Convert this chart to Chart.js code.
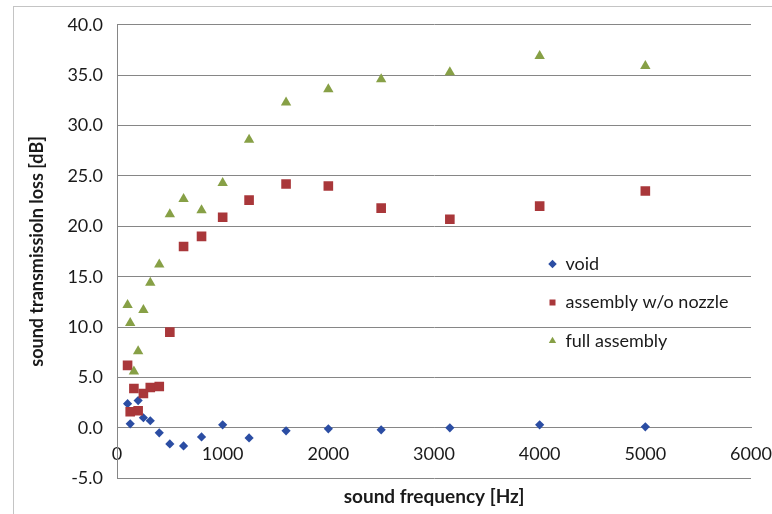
<!DOCTYPE html>
<html>
<head>
<meta charset="utf-8">
<script src="https://cdn.jsdelivr.net/npm/chart.js@4.4.0/dist/chart.umd.min.js"></script>
<style>
    html, body { margin: 0; padding: 0; background: #ffffff; }
    #wrap { width: 772px; height: 514px; }
</style>
</head>
<body>
<div id="wrap"><canvas id="stlChart" width="772" height="514"></canvas></div>
<script>
// --- Chart data ---
const frequencies = [100, 125, 160, 200, 250, 315, 400, 500, 630, 800, 1000, 1250, 1600, 2000, 2500, 3150, 4000, 5000];
const voidLoss = [2.4, 0.4, 1.6, 2.7, 1.0, 0.7, -0.5, -1.6, -1.8, -0.9, 0.3, -1.0, -0.3, -0.1, -0.2, 0.0, 0.3, 0.1];
const noNozzleLoss = [6.2, 1.6, 3.9, 1.7, 3.4, 4.0, 4.1, 9.5, 18.0, 19.0, 20.9, 22.6, 24.2, 24.0, 21.8, 20.7, 22.0, 23.5];
const fullAssemblyLoss = [12.2, 10.4, 5.6, 7.6, 11.7, 14.4, 16.2, 21.2, 22.7, 21.6, 24.3, 28.6, 32.3, 33.6, 34.6, 35.3, 36.9, 35.9];

const seriesNames = ["void", "assembly w/o nozzle", "full assembly"];
const yTickLabels = ["-5.0", "0.0", "5.0", "10.0", "15.0", "20.0", "25.0", "30.0", "35.0", "40.0"];
const xTickLabels = ["0", "1000", "2000", "3000", "4000", "5000", "6000"];

const FONT = "Lato, 'Liberation Sans', sans-serif";
const GRID = "#868686";
const TEXT = "#1a1a1a";

function toPoints(values) {
    return frequencies.map((f, i) => ({ x: f, y: values[i] }));
}

// grey frame around the whole chart (cut off at the right/bottom in the scan)
const framePlugin = {
    id: "frame",
    beforeDraw(chart) {
        const ctx = chart.ctx;
        ctx.save();
        ctx.strokeStyle = "#c4c4c4";
        ctx.lineWidth = 1;
        ctx.strokeRect(13.5, 6.5, 900, 700);
        ctx.restore();
    }
};

// move the legend inside the plot, right of centre
const legendSpot = {
    id: "legendSpot",
    afterLayout(chart) {
        const lg = chart.legend;
        if (!lg) return;
        lg.left = 528;
        lg.top = 234.5;
        lg.width = 240;
        lg.height = 160;
        lg.right = lg.left + lg.width;
        lg.bottom = lg.top + lg.height;
    }
};

document.addEventListener("DOMContentLoaded", () => {
    const ctx = document.getElementById("stlChart");

    new Chart(ctx, {
        type: "scatter",
        data: {
            datasets: [
                {
                    label: seriesNames[0],
                    data: toPoints(voidLoss),
                    pointStyle: "rectRot",
                    radius: 4.6,
                    backgroundColor: "#2b4da3",
                    borderColor: "#2b4da3",
                    borderWidth: 0,
                    order: 3
                },
                {
                    label: seriesNames[1],
                    data: toPoints(noNozzleLoss),
                    pointStyle: "rect",
                    radius: 6.8,
                    backgroundColor: "#a9373a",
                    borderColor: "#a9373a",
                    borderWidth: 0,
                    order: 2
                },
                {
                    label: seriesNames[2],
                    data: toPoints(fullAssemblyLoss),
                    pointStyle: "triangle",
                    radius: 6,
                    backgroundColor: "#87a046",
                    borderColor: "#87a046",
                    borderWidth: 0,
                    order: 1
                }
            ]
        },
        options: {
            responsive: false,
            animation: false,
            layout: { padding: { top: 23, right: 21, left: 0, bottom: 0 } },
            scales: {
                x: {
                    type: "linear",
                    min: 0,
                    max: 6000,
                    position: { y: 0 },
                    grid: { display: false, drawTicks: false },
                    border: { display: true, color: GRID, width: 1 },
                    ticks: {
                        stepSize: 1000,
                        autoSkip: false,
                        maxRotation: 0,
                        padding: 16,
                        color: TEXT,
                        font: { family: FONT, size: 18 },
                        callback: (v, i) => xTickLabels[i]
                    },
                    // the "6000" label is allowed to run past the frame, as in the scan
                    afterFit: (scale) => {
                        scale.height = 0;
                        scale.paddingLeft = 0;
                        scale.paddingRight = 0;
                    }
                },
                y: {
                    type: "linear",
                    min: -5,
                    max: 40,
                    position: "left",
                    grid: { color: GRID, lineWidth: 1, drawTicks: false },
                    border: { display: true, color: GRID, width: 1 },
                    ticks: {
                        stepSize: 5,
                        padding: 14,
                        color: TEXT,
                        font: { family: FONT, size: 18 },
                        callback: (v, i) => yTickLabels[i]
                    },
                    title: {
                        display: true,
                        text: "sound transmissioln loss [dB]",
                        color: TEXT,
                        font: { family: FONT, size: 18, weight: "bold" },
                        padding: { top: 26, bottom: 0 }
                    },
                    afterFit: (scale) => { scale.width = 117; }
                }
            },
            plugins: {
                legend: {
                    position: "chartArea",
                    align: "start",
                    labels: {
                        usePointStyle: true,
                        boxWidth: 8,
                        boxHeight: 6,
                        padding: 20.5,
                        color: TEXT,
                        font: { family: FONT, size: 18 },
                        sort: (a, b) => a.datasetIndex - b.datasetIndex
                    }
                },
                title: {
                    display: true,
                    position: "bottom",
                    fullSize: false,
                    text: "sound frequency [Hz]",
                    color: TEXT,
                    font: { family: FONT, size: 19, weight: "bold" },
                    padding: { top: 7, bottom: 6 }
                },
                tooltip: { enabled: false }
            }
        },
        plugins: [framePlugin, legendSpot]
    });
});
</script>
</body>
</html>
